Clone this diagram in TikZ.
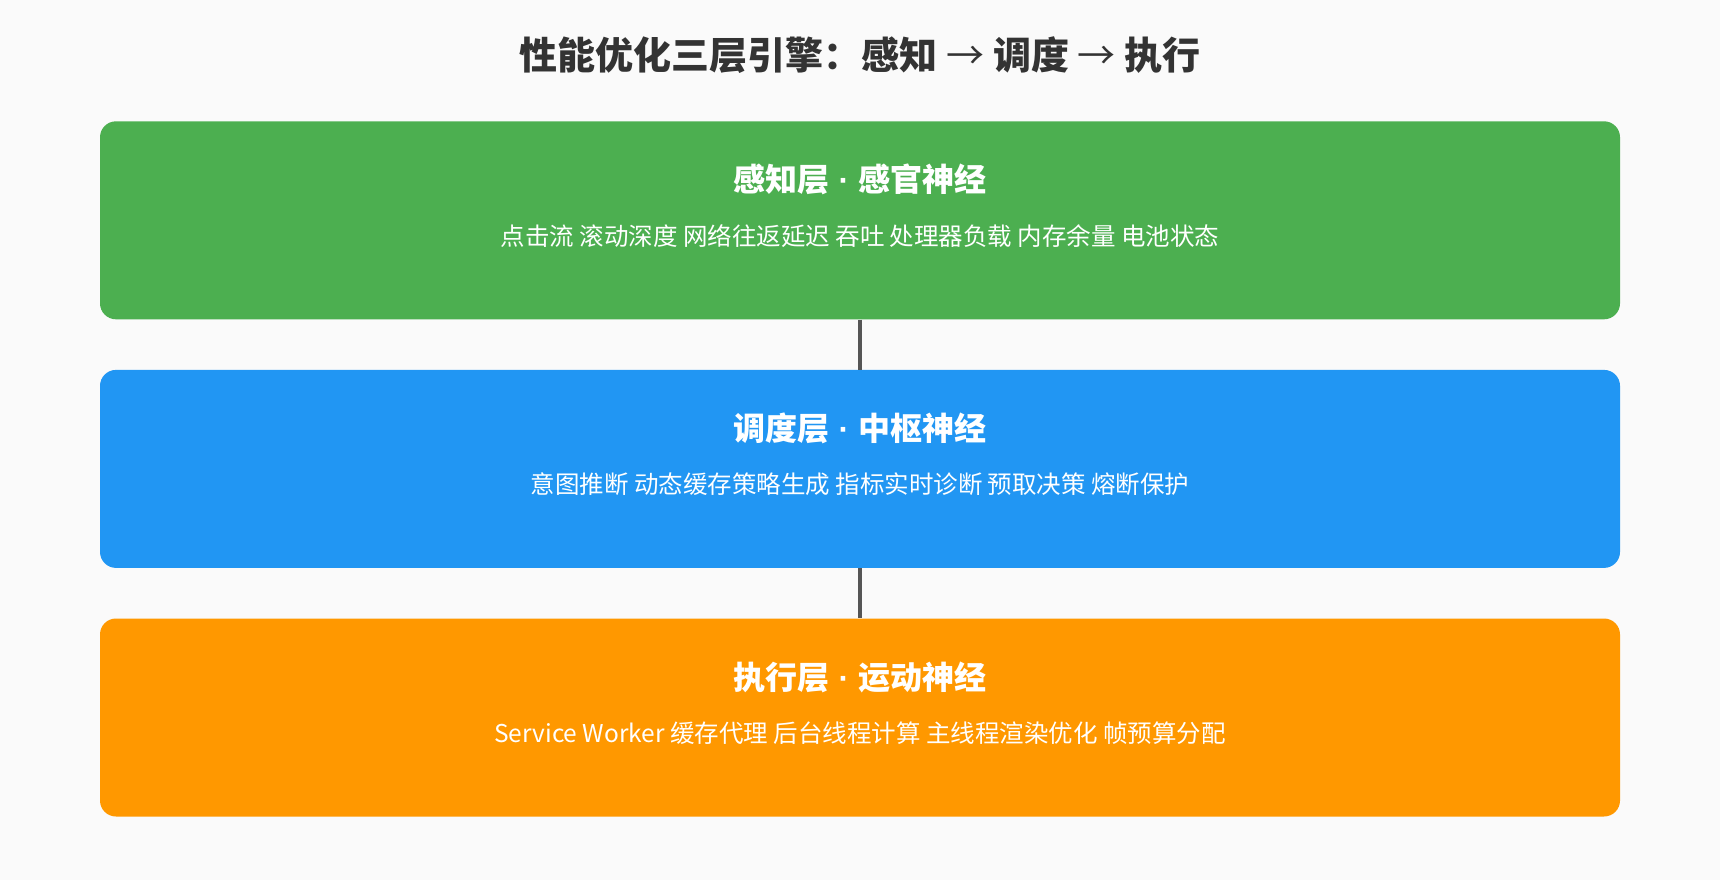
\documentclass[tikz,border=0pt]{standalone}
\usepackage{fontspec}
\setmainfont{Noto Sans CJK SC}
\newfontfamily\dotfont{Liberation Sans}
\usetikzlibrary{positioning}
\definecolor{pagebg}{HTML}{FAFAFA}
\definecolor{titlegray}{HTML}{333333}
\definecolor{linkgray}{HTML}{555555}
\definecolor{sensegreen}{HTML}{4CAF50}
\definecolor{planblue}{HTML}{2196F3}
\definecolor{actorange}{HTML}{FF9800}
\newcommand{\sepdot}{{\dotfont\ ·\ }}
\begin{document}
\begin{tikzpicture}[x=1pt,y=1pt,node distance=50pt,semithick]
          \tikzstyle{layer}=[draw=none,rectangle,rounded corners=16pt,minimum width=1520pt,minimum height=198pt,inner sep=0pt]
          \tikzstyle{layer title}=[text=white,font=\fontsize{32}{36}\selectfont\bfseries,inner sep=0pt]
          \tikzstyle{layer text}=[text=white,font=\fontsize{24.5}{28}\selectfont,inner sep=0pt]
          \tikzstyle{link}=[draw=linkgray,line width=4.5pt]
          \fill[pagebg] (0,0) rectangle (1720,-880);
          \useasboundingbox (0,0) rectangle (1720,-880);

          \node[text=titlegray,font=\fontsize{38}{44}\selectfont\bfseries] (title) at (860,-55) {性能优化三层引擎：感知 {\mdseries →} 调度 {\mdseries →} 执行};

          \node[layer,fill=sensegreen,anchor=north] (sense) at (860,-121) {};
          \node[layer,fill=planblue]    (plan) [below=of sense] {};
          \node[layer,fill=actorange]   (act)  [below=of plan]  {};

          \node[layer title] (sense title) at ([yshift=-58pt]sense.north) {感知层\sepdot 感官神经};
          \node[layer text]  (sense text)  at ([yshift=-115pt]sense.north) {点击流 滚动深度 网络往返延迟 吞吐 处理器负载 内存余量 电池状态};
          \node[layer title] (plan title)  at ([yshift=-59pt]plan.north) {调度层\sepdot 中枢神经};
          \node[layer text]  (plan text)   at ([yshift=-115pt]plan.north) {意图推断 动态缓存策略生成 指标实时诊断 预取决策 熔断保护};
          \node[layer title] (act title)   at ([yshift=-59pt]act.north) {执行层\sepdot 运动神经};
          \node[layer text]  (act text)    at ([yshift=-115pt]act.north) {Service Worker 缓存代理 后台线程计算 主线程渲染优化 帧预算分配};

          \path[link] (sense.south) -- (plan.north)
                      (plan.south)  -- (act.north);
        \end{tikzpicture}
\end{document}
